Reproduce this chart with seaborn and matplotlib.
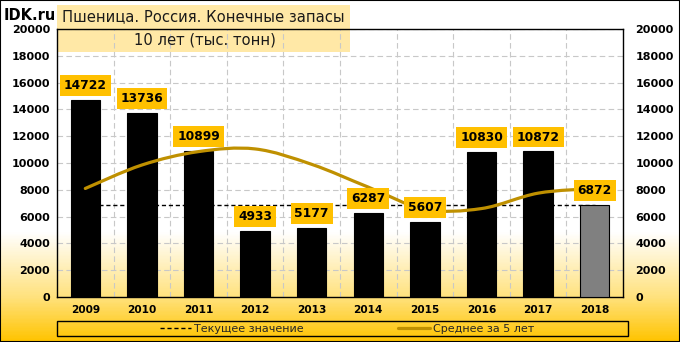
import numpy as np
import pandas as pd
import matplotlib
matplotlib.use("Agg")
import matplotlib.pyplot as plt
import seaborn as sns
from matplotlib.path import Path
from matplotlib.patches import PathPatch, Rectangle
from matplotlib.lines import Line2D
from matplotlib.colors import LinearSegmentedColormap

years = ["2009", "2010", "2011", "2012", "2013", "2014", "2015", "2016", "2017", "2018"]
stocks = [14722, 13736, 10899, 4933, 5177, 6287, 5607, 10830, 10872, 6872]
avg5 = [8100, 9850, 10850, 11050, 9900, 8200, 6550, 6600, 7750, 8100]
current_value = 6872
yticks = list(range(0, 20001, 2000))
title1 = "Пшеница. Россия. Конечные запасы"
title2 = "10 лет (тыс. тонн)"
legend_labels = ["Текущее значение", "Среднее за 5 лет"]

sns.set_theme(style="white")
plt.rcParams['font.family'] = ['DejaVu Sans']

W, H = 680, 342
fig = plt.figure(figsize=(W / 100, H / 100), dpi=100)

# gradient background
bg = fig.add_axes([0, 0, 1, 1], zorder=-3)
bg.axis("off")
cmap = LinearSegmentedColormap.from_list("g", [(0, "#FFFFFF"), (0.68, "#FFFFFF"), (0.87, "#FFE27E"), (1.0, "#FFC400")])
grad = np.linspace(0, 1, 342).reshape(-1, 1)
bg.imshow(grad, aspect="auto", cmap=cmap, extent=[0, 1, 0, 1], origin="upper")
bg.set_xlim(0, 1); bg.set_ylim(0, 1)

def fx(px):
    return px / W

def fy(py):
    return 1 - py / H

# title box (behind the plot axes)
fig.patches.append(Rectangle((fx(57), fy(52)), fx(350) - fx(57), fy(5) - fy(52),
                             transform=fig.transFigure, facecolor="#FFE8A6", edgecolor="none", zorder=-1))

L, R, T, B = 57, 623, 29, 297
ax = fig.add_axes([fx(L), fy(B), fx(R) - fx(L), fy(T) - fy(B)], zorder=1)
ax.set_facecolor("none")

df = pd.DataFrame({"year": years, "stock": stocks})
colors = ["#000000"] * (len(years) - 1) + ["#808080"]
sns.barplot(data=df, x="year", y="stock", hue="year", palette=colors, legend=False,
            width=0.52, edgecolor="black", linewidth=0.8, ax=ax, saturation=1)
for p in ax.patches:
    p.set_zorder(3)

ax.hlines(current_value, 0, len(years) - 1, colors="black", linestyles=(0, (3, 2)), linewidth=1, zorder=2)

# smooth 5-year average line (bezier through data points)
xs = np.arange(len(avg5), dtype=float)
ys = np.array(avg5, dtype=float)
verts = [(xs[0], ys[0])]
codes = [Path.MOVETO]
n = len(xs)
for i in range(n - 1):
    p0 = np.array([xs[max(i - 1, 0)], ys[max(i - 1, 0)]])
    p1 = np.array([xs[i], ys[i]])
    p2 = np.array([xs[i + 1], ys[i + 1]])
    p3 = np.array([xs[min(i + 2, n - 1)], ys[min(i + 2, n - 1)]])
    c1 = p1 + (p2 - p0) / 6
    c2 = p2 - (p3 - p1) / 6
    verts += [tuple(c1), tuple(c2), tuple(p2)]
    codes += [Path.CURVE4] * 3
ax.add_patch(PathPatch(Path(verts, codes), facecolor="none", edgecolor="#BF9000",
                       linewidth=2.3, zorder=4, capstyle="round"))

for i, v in enumerate(stocks):
    ax.annotate(f"{v}", (i, v), xytext=(0, 10.3), textcoords="offset points",
                ha="center", va="center", fontsize=8.8, fontweight="bold", color="black",
                bbox=dict(boxstyle="square,pad=0.32", facecolor="#FFC000", edgecolor="none"),
                zorder=6)

ax.set_ylim(0, 20000)
ax.set_xlim(-0.5, len(years) - 0.5)
ax.set_yticks(yticks)
ax.set_yticklabels([str(t) for t in yticks], fontsize=8, fontweight="bold")
ax.set_xticks(range(len(years)))
ax.set_xticklabels(years, fontsize=7.6, fontweight="bold")
ax.set_xticks(np.arange(0.5, len(years) - 0.5, 1), minor=True)
ax.tick_params(axis="y", which="both", length=0, pad=5, colors="black")
ax.tick_params(axis="x", which="both", length=0, pad=6, colors="black")
ax.set_xlabel(""); ax.set_ylabel("")
ax.set_axisbelow(True)
ax.grid(axis="y", which="major", linestyle=(0, (5, 3)), color="#C8C8C8", linewidth=0.8)
ax.grid(axis="x", which="minor", linestyle=(0, (5, 3)), color="#C8C8C8", linewidth=0.8)
ax.grid(axis="x", which="major", visible=False)
for s in ax.spines.values():
    s.set_visible(True)
    s.set_color("black")
    s.set_linewidth(1)

ax2 = ax.twinx()
ax2.set_ylim(0, 20000)
ax2.set_yticks(yticks)
ax2.set_yticklabels([str(t) for t in yticks], fontsize=8, fontweight="bold")
ax2.tick_params(axis="y", length=0, pad=9, colors="black")
ax2.grid(False)
for s in ax2.spines.values():
    s.set_visible(False)

# titles
fig.text(fx(203), fy(17), title1, ha="center", va="center", fontsize=10.6, color="#1a1a1a")
fig.text(fx(205), fy(40), title2, ha="center", va="center", fontsize=10.6, color="#1a1a1a")
fig.text(fx(4), fy(15), "IDK.ru", ha="left", va="center", fontsize=10.5, fontweight="bold", color="black")

# legend
fig.patches.append(Rectangle((fx(57), fy(336)), fx(628) - fx(57), fy(321) - fy(336),
                             transform=fig.transFigure, facecolor="none", edgecolor="black", linewidth=1, zorder=2))
handles = [Line2D([0], [0], color="black", linestyle=(0, (3, 2)), linewidth=1),
           Line2D([0], [0], color="#BF9000", linewidth=2.3)]
leg = fig.legend(handles, legend_labels, loc="center", bbox_to_anchor=(fx(347), fy(328.5)),
                 ncol=2, frameon=False, handlelength=2.8, handletextpad=0.3,
                 columnspacing=8.5, borderpad=0,
                 prop={"family": ["DejaVu Sans"], "size": 8})

# outer border
fig.patches.append(Rectangle((0, 0), 1, 1, transform=fig.transFigure, facecolor="none",
                             edgecolor="black", linewidth=1.5, zorder=5))

fig.savefig("out.png", dpi=100)
